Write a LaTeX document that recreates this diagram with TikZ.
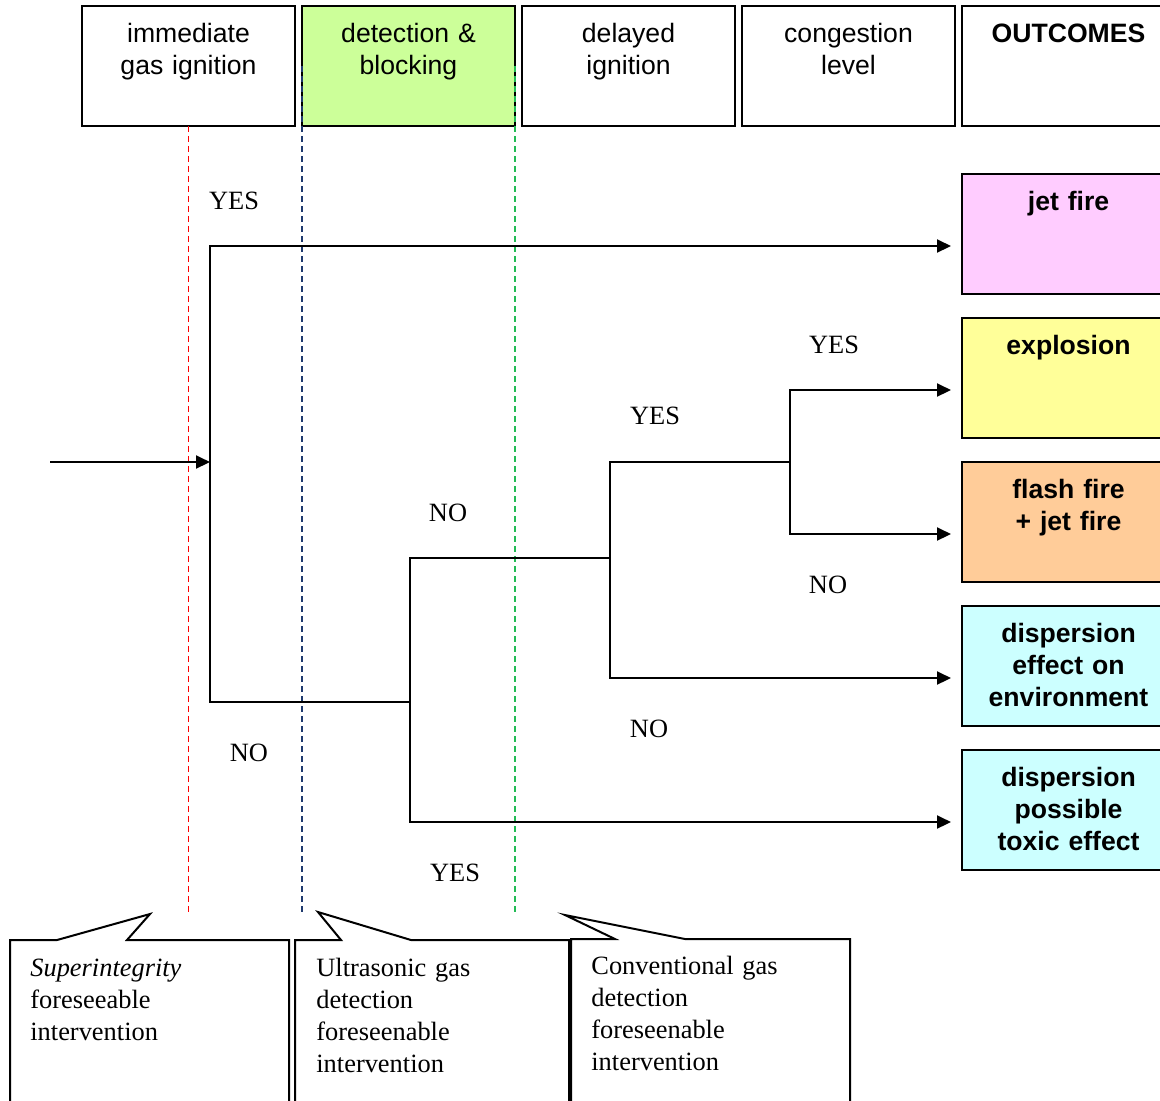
\documentclass[tikz,border=0pt]{standalone}
\usepackage{fontspec}
\setmainfont{Liberation Serif}
\setsansfont{Liberation Sans}
\usetikzlibrary{arrows.meta, positioning}

\definecolor{detgreen}{HTML}{CCFF99}
\definecolor{jetpink}{HTML}{FFCCFF}
\definecolor{explyellow}{HTML}{FFFF99}
\definecolor{flashorange}{HTML}{FFCC99}
\definecolor{dispcyan}{HTML}{CCFFFF}
\definecolor{ugdblue}{HTML}{1F3A6E}
\definecolor{cgdgreen}{HTML}{22BB55}

\begin{document}
\begin{tikzpicture}
  [x=0.5pt, y=-0.5pt,
  % header
  hdr/.style = {rectangle,
    draw, line width=1pt,
    inner sep=2pt, outer sep=0pt,
    text width=102.5pt, align=center,
    text height=16pt, text depth=40pt,
    font=\sffamily\fontsize{13.3}{16}\selectfont},
  % outcome
  outc/.style = {hdr,
    font=\sffamily\bfseries\fontsize{13.3}{16}\selectfont},
  % line
  line/.style = {draw, line width=1pt, shorten >=5.5pt,
    -{Triangle[length=7pt, width=6.5pt]}},
  branch/.style = {draw, line width=1pt},
  % answers
  ans/.style = {font=\fontsize{13.2}{14}\selectfont},
  % barriers
  barrier/.style = {line width=0.75pt, dash pattern=on 3pt off 2pt},
  call/.style = {draw, line width=1pt},
  calltxt/.style = {text width=125pt, align=left, inner sep=0pt,
    anchor=base west, font=\fontsize{13.2}{16}\selectfont},
  % distance
  node distance = 3.5pt,
  ]

  \useasboundingbox (0,0) rectangle (1160,1100);
  \clip (0,0) rectangle (1160,1100);

  % headers
  \node [hdr] (ign) at (188.5,66) {immediate\\gas ignition};
  \node [hdr, fill=detgreen, right= of ign] (det) {detection \&\\blocking};
  \node [hdr, right= of det] (del) {delayed\\ignition};
  \node [hdr, right= of del] (cong) {congestion\\level};
  \node [outc, right= of cong] (out) {OUTCOMES};

  % outcomes
  \node [outc, fill=jetpink, below=24pt of out] (jet) {jet fire};
  \node [outc, fill=explyellow, below=12pt of jet] (expl) {explosion};
  \node [outc, fill=flashorange, below=12pt of expl] (flash) {flash fire\\+ jet fire};
  \node [outc, fill=dispcyan, below=12pt of flash] (env) {dispersion\\effect on\\environment};
  \node [outc, fill=dispcyan, below=12pt of env] (tox) {dispersion\\possible\\toxic effect};

  % branch points
  \coordinate (src) at (50,462);
  \coordinate (n1) at (210,462);
  \coordinate (n2) at (410,702);
  \coordinate (n3) at (610,558);
  \coordinate (n4) at (790,462);

  % callout tips
  \coordinate (c1tip) at (150,914);
  \coordinate (c2tip) at (318,912);
  \coordinate (c3tip) at (565,915);

  % barriers
  \draw [barrier, red] (ign.south) -- (ign.south |- c1tip);
  \draw [barrier, ugdblue] (det.west) -- (det.west |- c2tip);
  \draw [barrier, cgdgreen] (det.east) -- (det.east |- c2tip);

  % path
  \path [line, shorten >=0pt] (src) -- (n1);
  \path [line] (n1) |- ([yshift=-6pt]jet.west);
  \path [branch] (n1) |- (n2);
  \path [branch] (n2) |- (n3);
  \path [line] (n2) |- ([yshift=-6pt]tox.west);
  \path [branch] (n3) |- (n4);
  \path [line] (n3) |- ([yshift=-6pt]env.west);
  \path [line] (n4) |- ([yshift=-6pt]expl.west);
  \path [line] (n4) |- ([yshift=-6pt]flash.west);

  % answers
  \node [ans] (yes1) at (234,201) {YES};
  \node [ans] (no1) at (249,753) {NO};
  \node [ans] (no2) at (448,513) {NO};
  \node [ans] (yes2) at (455,873) {YES};
  \node [ans] (yes3) at (655,416) {YES};
  \node [ans] (no3) at (649,729) {NO};
  \node [ans] (yes4) at (834,345) {YES};
  \node [ans] (no4) at (828,585) {NO};

  % callouts
  \draw [call] (10,1120) -- (10,940) -- (57,940) -- (c1tip) -- (127,940)
    -- (289,940) -- (289,1120);
  \draw [call] (295,1120) -- (295,940) -- (341,940) -- (c2tip) -- (411,940)
    -- (569,940) -- (569,1120);
  \draw [call] (571,1120) -- (571,939) -- (615,939) -- (c3tip) -- (685,939)
    -- (850,939) -- (850,1120);

  \node [calltxt] (c1txt) at (30,976)
    {\textit{Superintegrity}\\foreseeable\\intervention};
  \node [calltxt] (c2txt) at (316,976)
    {Ultrasonic gas\\detection\\foreseenable\\intervention};
  \node [calltxt] (c3txt) at (591,974)
    {Conventional gas\\detection\\foreseenable\\intervention};

\end{tikzpicture}
\end{document}
